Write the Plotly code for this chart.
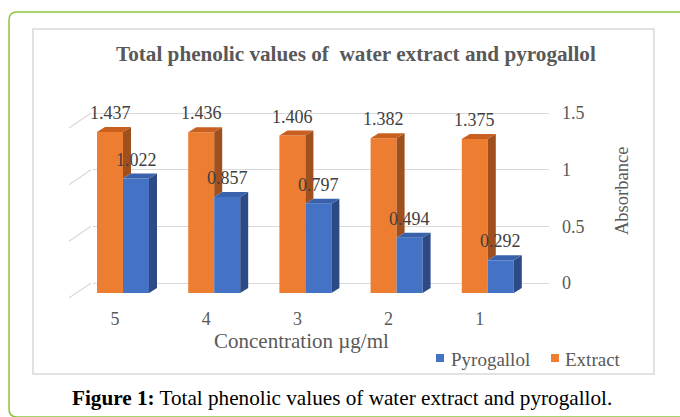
import plotly.graph_objects as go

# ---------------- data ----------------
categories = ["5", "4", "3", "2", "1"]
extract = [1.437, 1.436, 1.406, 1.382, 1.375]
pyrogallol = [1.022, 0.857, 0.797, 0.494, 0.292]
y_tickvals = [0, 0.5, 1, 1.5]
y_ticktext = ["0", "0.5", "1", "1.5"]
series_names = ["Extract", "Pyrogallol"]

title_text = "Total phenolic values of  water extract and pyrogallol"
x_title = "Concentration µg/ml"
y_title = "Absorbance"
caption_bold = "Figure 1:"
caption_rest = " Total phenolic values of water extract and pyrogallol."

# ---------------- geometry (screen pixels) ----------------
W, H = 680, 417
L, R = 93, 549          # plot area left/right
T, B = 100, 300         # plot area top/bottom
PXX = 91.2              # px per category
CX0 = 123               # px of first cluster centre
PY = 112.0              # px per unit (front faces)
Y0 = 293                # px of zero (front)
PY2 = 170 / 1.5         # px per unit (back wall)
Y02 = 283               # px of zero (back wall)

x_range = [(L - CX0) / PXX, (R - CX0) / PXX]
y_range = [-(B - Y0) / PY, (Y0 - T) / PY]
y2_range = [-(B - Y02) / PY2, (Y02 - T) / PY2]

bw = 26 / PXX
dx = 8 / PXX
dy = 5 / PY


def px(x):
    return (x - L) / (R - L)


def py(y):
    return (B - y) / (B - T)


C_OR = "#ED7D31"
C_OR_TOP = "#C9601F"
C_OR_SIDE = "#A0501E"
C_BL = "#4472C4"
C_BL_TOP = "#3A62AC"
C_BL_SIDE = "#2C4A85"
GRID = "#D9D9D9"
TXT = "#595959"
LBL = "#404040"
FONT = "Liberation Serif"

idx = list(range(len(categories)))

fig = go.Figure()

# front faces
fig.add_trace(go.Bar(x=idx, y=extract, width=bw, offset=-bw, marker_color=C_OR,
                     marker_line_width=0, name=series_names[0], showlegend=False,
                     hoverinfo="skip"))
fig.add_trace(go.Bar(x=idx, y=pyrogallol, width=bw, offset=0, marker_color=C_BL,
                     marker_line_width=0, name=series_names[1], showlegend=False,
                     hoverinfo="skip"))

# 3D faces
for i, (ve, vp) in enumerate(zip(extract, pyrogallol)):
    x0, x1 = i - bw, i
    fig.add_trace(go.Scatter(x=[x0, x1, x1 + dx, x0 + dx, x0], y=[ve, ve, ve + dy, ve + dy, ve],
                             fill="toself", fillcolor=C_OR_TOP, mode="lines", line_width=0,
                             showlegend=False, hoverinfo="skip"))
    fig.add_trace(go.Scatter(x=[x1, x1, x1 + dx, x1 + dx, x1], y=[vp, ve, ve + dy, vp + dy, vp],
                             fill="toself", fillcolor=C_OR_SIDE, mode="lines", line_width=0,
                             showlegend=False, hoverinfo="skip"))
    x0, x1 = i, i + bw
    fig.add_trace(go.Scatter(x=[x1, x1, x1 + dx, x1 + dx, x1], y=[0, vp, vp + dy, dy, 0],
                             fill="toself", fillcolor=C_BL_SIDE, mode="lines", line_width=0,
                             showlegend=False, hoverinfo="skip"))
    fig.add_trace(go.Scatter(x=[x0, x1, x1 + dx, x0 + dx, x0], y=[vp, vp, vp + dy, vp + dy, vp],
                             fill="toself", fillcolor=C_BL_TOP, mode="lines", line_width=0,
                             showlegend=False, hoverinfo="skip"))

# invisible trace to activate y2
fig.add_trace(go.Scatter(x=[idx[0]], y=[0], yaxis="y2", mode="markers",
                         marker_opacity=0, showlegend=False, hoverinfo="skip"))

annotations = []
for i, (ve, vp) in enumerate(zip(extract, pyrogallol)):
    annotations.append(dict(x=i - bw / 2, y=ve, xref="x", yref="y", text=f"{ve:.3f}",
                            showarrow=False, yshift=19, yanchor="middle",
                            font=dict(family=FONT, size=18, color=LBL)))
    annotations.append(dict(x=i + bw / 2, y=vp, xref="x", yref="y", text=f"{vp:.3f}",
                            showarrow=False, yshift=19, yanchor="middle",
                            font=dict(family=FONT, size=18, color=LBL)))

annotations.append(dict(x=px(355.5), y=py(54), xref="paper", yref="paper", text=f"<b>{title_text}</b>",
                        showarrow=False, xanchor="center", yanchor="middle",
                        font=dict(family=FONT, size=21.2, color=TXT)))
annotations.append(dict(x=px(301), y=py(341), xref="paper", yref="paper", text=x_title,
                        showarrow=False, xanchor="center", yanchor="middle",
                        font=dict(family=FONT, size=21, color=TXT)))
annotations.append(dict(x=px(622), y=py(191), xref="paper", yref="paper", text=y_title,
                        showarrow=False, xanchor="center", yanchor="middle", textangle=-90,
                        font=dict(family=FONT, size=18.5, color=TXT)))
annotations.append(dict(x=px(342), y=py(398), xref="paper", yref="paper",
                        text=f"<b>{caption_bold}</b>{caption_rest}",
                        showarrow=False, xanchor="center", yanchor="middle",
                        font=dict(family=FONT, size=21.2, color="#000000")))

legend_items = [(series_names[1], C_BL, 436, 449), (series_names[0], C_OR, 551, 563)]
shapes = []
for name, col, sx, tx in legend_items:
    shapes.append(dict(type="rect", xref="paper", yref="paper", x0=px(sx), x1=px(sx + 8),
                       y0=py(362), y1=py(354), fillcolor=col, line_width=0))
    annotations.append(dict(x=px(tx), y=py(359), xref="paper", yref="paper", text=name,
                            showarrow=False, xanchor="left", yanchor="middle",
                            font=dict(family=FONT, size=19, color=TXT)))

r = 8
gx0, gy0, gx1, gy1 = 9, 12, 720, 417
pathd = (f"M {px(gx1)},{py(gy0)} L {px(gx0 + r)},{py(gy0)} "
         f"Q {px(gx0)},{py(gy0)} {px(gx0)},{py(gy0 + r)} "
         f"L {px(gx0)},{py(gy1 - r)} Q {px(gx0)},{py(gy1)} {px(gx0 + r)},{py(gy1)} "
         f"L {px(gx1)},{py(gy1)}")
shapes.append(dict(type="path", xref="paper", yref="paper", path=pathd,
                   line=dict(color="#8CC63F", width=1.5)))
shapes.append(dict(type="rect", xref="paper", yref="paper", x0=px(33), x1=px(654),
                   y0=py(29), y1=py(374), line=dict(color=GRID, width=1.5), layer="below"))
for v in y_tickvals:
    shapes.append(dict(type="line", xref="paper", yref="y2", xsizemode="pixel", ysizemode="pixel",
                       xanchor=px(91), yanchor=v, x0=0, x1=-22, y0=0, y1=-15,
                       line=dict(color=GRID, width=1.2), layer="below"))

fig.update_layout(
    width=W, height=H,
    margin=dict(l=L, r=W - R, t=T, b=H - B, pad=0),
    paper_bgcolor="white", plot_bgcolor="white",
    barmode="overlay",
    showlegend=False,
    hovermode=False,
    xaxis=dict(range=x_range, tickvals=[i - 8 / PXX for i in idx], ticktext=categories,
               showgrid=False, zeroline=False, showline=False, ticks="",
               tickfont=dict(family=FONT, size=18, color=TXT), ticklabelstandoff=6,
               fixedrange=True),
    yaxis=dict(range=y_range, visible=False, fixedrange=True),
    yaxis2=dict(range=y2_range, overlaying="y", side="right", tickvals=y_tickvals,
                ticktext=y_ticktext, showgrid=True, gridcolor=GRID, gridwidth=1.2,
                zeroline=False, showline=False, ticks="", ticklabelstandoff=12,
                tickfont=dict(family=FONT, size=18, color=TXT), fixedrange=True),
    annotations=annotations,
    shapes=shapes,
)

fig.write_html("out.html", config={"displayModeBar": False},
               post_script="document.body.style.margin='0';document.body.style.overflow='hidden';")
